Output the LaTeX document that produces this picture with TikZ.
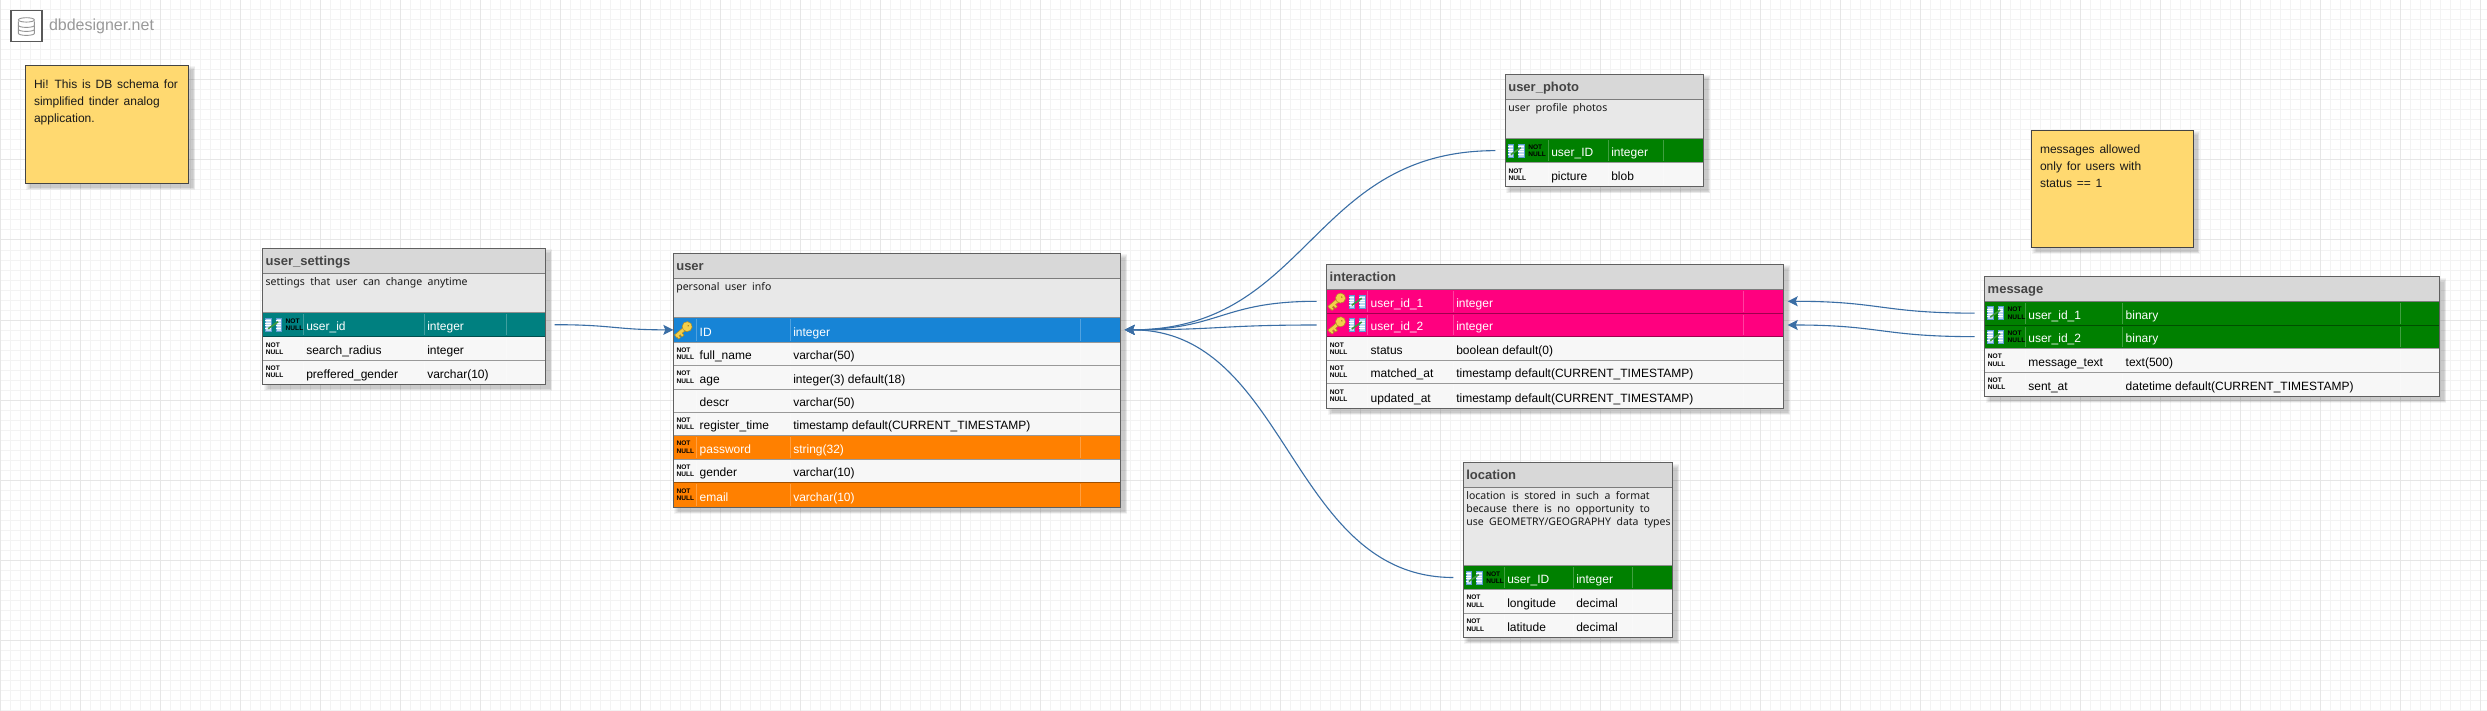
\documentclass[tikz,border=0pt]{standalone}
\usepackage{fontspec}
\usetikzlibrary{arrows.meta}
\setmainfont{Liberation Sans}
\newfontfamily\descfont[WordSpace=2]{Noto Sans}
\newfontfamily\notefont[WordSpace=1.45]{Liberation Sans}
\definecolor{gridminor}{HTML}{F3F3F3}
\definecolor{gridmajor}{HTML}{E6E6E6}
\definecolor{headfill}{HTML}{D8D8D8}
\definecolor{descfill}{HTML}{E8E8E8}
\definecolor{plainfill}{HTML}{F7F7F7}
\definecolor{edgedark}{HTML}{444444}
\definecolor{plainsep}{HTML}{E8E8E8}
\definecolor{tealrow}{HTML}{008080}
\definecolor{bluerow}{HTML}{1784D6}
\definecolor{orangerow}{HTML}{FF8000}
\definecolor{pinkrow}{HTML}{FF007F}
\definecolor{greenrow}{HTML}{008000}
\definecolor{notefill}{HTML}{FFD970}
\definecolor{linkblue}{HTML}{3A6EA5}
\definecolor{keygold}{HTML}{F4CF4A}
\definecolor{keyedge}{HTML}{B08C24}
\definecolor{fkblue}{HTML}{BBD9F2}
\definecolor{fkedge}{HTML}{5C9BD0}
\definecolor{fkgreen}{HTML}{3D9A3D}
\tikzset{
  x=0.5pt,y=-0.5pt,
  cellbox/.style={rectangle,inner sep=0pt,outer sep=0pt,anchor=north west},
  celltext/.style={inner sep=0pt,outer sep=0pt,anchor=base west,font=\fontsize{6}{7}\selectfont},
  titletext/.style={inner sep=0pt,outer sep=0pt,anchor=base west,text=edgedark,font=\bfseries\fontsize{6.5}{7.5}\selectfont},
  desctext/.style={inner sep=0pt,outer sep=0pt,anchor=north west,align=left,text=black!90,font=\descfont\fontsize{5.25}{6.5}\selectfont},
  nntext/.style={inner sep=0pt,outer sep=0pt,anchor=west,align=left,text=black,font=\bfseries\fontsize{3.3}{3.6}\selectfont},
  notebox/.style={rectangle,draw=edgedark,line width=0.5pt,fill=notefill,inner sep=0pt,outer sep=0pt,anchor=north west},
  notetext/.style={inner sep=0pt,outer sep=0pt,anchor=north west,align=left,text=black!90,font=\notefont\fontsize{6}{8.5}\selectfont},
  fklink/.style={draw=linkblue,line width=0.55pt,-{Stealth[length=5pt,width=5pt,inset=1pt]}},
  tableedge/.style={draw=edgedark!85,line width=0.5pt},
}
% soft shadow as stacked translucent rectangles
\newcommand{\softshadow}[4]{%
  \foreach \s in {1,2,3,4,5}{%
    \fill[black,opacity=0.045]
      ({#1+\s},{#2+\s}) rectangle ({#3+7-\s*0.5},{#4+7-\s*0.5});}%
}
% cell box: style, name, x0,y0,x1,y1
\newcommand{\boxnode}[6]{%
  \pgfmathsetmacro{\bw}{(#5-#3)*0.5}%
  \pgfmathsetmacro{\bh}{(#6-#4)*0.5}%
  \node[cellbox,fill=#1,minimum width=\bw pt,minimum height=\bh pt] (#2) at (#3,#4) {};%
}
% table frame columns
\newcommand{\settable}[5]{\def\xa{#1}\def\xb{#2}\def\xc{#3}\def\xd{#4}\def\xe{#5}}
% icons use \xa and \ryc
\newcommand{\icNN}[1]{\node[nntext] (#1-nn) at ({\xa+3.2},\ryc) {NOT\\NULL};}
\newcommand{\fkicon}[1]{%
  \begin{scope}[shift={(#1,\ryc)}]
    \fill[fkblue,draw=fkedge,line width=0.2pt] (-8,-6.5) rectangle (-2.5,6.5);
    \fill[fkblue,draw=fkedge,line width=0.2pt] (2.5,-6.5) rectangle (8,6.5);
    \foreach \yy in {-4,-1.5,1,3.5}{
      \draw[white,line width=0.3pt] (-8,\yy) -- (-2.5,\yy);
      \draw[white,line width=0.3pt] (2.5,\yy) -- (8,\yy);}
    \draw[fkgreen,line width=0.8pt] (-5,4) -- (5,-3);
  \end{scope}}
\newcommand{\keyicon}[1]{%
  \begin{scope}[shift={(#1,\ryc)},rotate=40]
    \fill[keygold,draw=keyedge,line width=0.25pt]
      (-10,-1.8) -- (2,-1.8) -- (2,1.8) -- (-3,1.8) -- (-3,4.5) -- (-5.5,4.5) -- (-5.5,1.8) -- (-7,1.8) -- (-7,4) -- (-9.5,4) -- (-9.5,1.8) -- (-10,1.8) -- cycle;
    \fill[keygold,draw=keyedge,line width=0.25pt] (5,0) circle[radius=2.5pt];
    \fill[keyedge] (6.5,0) circle[radius=0.45pt];
  \end{scope}}
\newcommand{\icFKNN}[1]{\fkicon{\xa+10.5}\node[nntext] (#1-nn) at ({\xa+23},\ryc) {NOT\\NULL};}
\newcommand{\icKeyOnly}[1]{\keyicon{\xa+10}}
\newcommand{\icKeyFK}[1]{\keyicon{\xa+10}\fkicon{\xa+30}}
\newcommand{\icNone}[1]{}
% row: name, y0, y1, fill, text colour, icon macro, column 1, column 2
\newcommand{\dbrow}[8]{%
  \boxnode{#4}{#1}{\xa}{#2}{\xe}{#3}%
  \pgfmathsetmacro{\ryc}{(#2+#3)/2}%
  \pgfmathsetmacro{\rya}{#2+1.5}%
  \pgfmathsetmacro{\ryb}{#3-1.5}%
  \pgfmathsetmacro{\ryt}{#3-6}%
  \ifx#5black\def\sepcol{plainsep}\def\sepop{1}\else\def\sepcol{white}\def\sepop{0.25}\fi
  \foreach \vx in {\xb,\xc,\xd}{\draw[\sepcol,opacity=\sepop,line width=0.4pt] (\vx,\rya) -- (\vx,\ryb);}%
  #6{#1}%
  \pgfmathsetmacro{\tbx}{\xb+3}\pgfmathsetmacro{\tcx}{\xc+3}%
  \node[celltext,text=#5] (#1-n) at (\tbx,\ryt) {#7};%
  \node[celltext,text=#5] (#1-t) at (\tcx,\ryt) {#8};%
  \draw[black,opacity=0.38,line width=0.5pt] (#1.north west) -- (#1.north east);%
}
% header: name, y0, y1, title
\newcommand{\dbhead}[4]{%
  \boxnode{headfill}{#1}{\xa}{#2}{\xe}{#3}%
  \pgfmathsetmacro{\tty}{#3-8.2}\pgfmathsetmacro{\ttx}{\xa+3}%
  \node[titletext] (#1-title) at (\ttx,\tty) {#4};%
}
% description: name, y0, y1, text
\newcommand{\dbdesc}[4]{%
  \boxnode{descfill}{#1}{\xa}{#2}{\xe}{#3}%
  \pgfmathsetmacro{\ddy}{#2+4.5}\pgfmathsetmacro{\ddx}{\xa+3}%
  \node[desctext] (#1-text) at (\ddx,\ddy) {#4};%
}
% frame: header node, last row node
\newcommand{\dbframe}[2]{%
  \draw[edgedark!70,line width=0.5pt] (#1.south west) -- (#1.south east);%
  \draw[tableedge] (#1.north west) rectangle (#2.south east);%
}
\begin{document}
\begin{tikzpicture}
\useasboundingbox (0,0) rectangle (2487,711);
\fill[white] (0,0) rectangle (2487,711);
% grid
\foreach \gx in {0,10,...,2480}{\draw[gridminor,line width=0.5pt] (\gx,0) -- (\gx,711);}
\foreach \gy in {0,10,...,710}{\draw[gridminor,line width=0.5pt] (0,\gy) -- (2487,\gy);}
\foreach \gx in {0,80,...,2480}{\draw[gridmajor,line width=0.5pt] (\gx,0) -- (\gx,711);}
\foreach \gy in {0,80,...,710}{\draw[gridmajor,line width=0.5pt] (0,\gy) -- (2487,\gy);}
% logo
\node[rectangle,draw=black!65,line width=0.6pt,fill=white,inner sep=0pt,minimum width=15.5pt,minimum height=15.5pt,anchor=north west] (logo) at (10.3,10.3) {};
\begin{scope}[shift={(logo.center)}]
  \foreach \dy in {4,0,-4}{
    \draw[black!42,fill=white,line width=0.45pt] (-8,\dy-1) -- (-8,\dy+3) arc[start angle=180,end angle=360,x radius=4pt,y radius=1pt] -- (8,\dy-1);
  }
  \draw[black!42,fill=white,line width=0.45pt] (0,-6.5) ellipse[x radius=4pt,y radius=1.1pt];
\end{scope}
\node[inner sep=0pt,outer sep=0pt,anchor=base west,text=black!40,font=\fontsize{8}{9}\selectfont] (logotext) at (49,31) {dbdesigner.net};
% notes
\softshadow{25.3}{65.3}{188.7}{183.3}
\node[notebox,minimum width=81.7pt,minimum height=59pt] (noteA) at (25.3,65.3) {};
\node[notetext] (noteAtext) at (34,80) {Hi! This is DB schema for\\simplified tinder analog\\application.};
\softshadow{2031.3}{130.3}{2193.3}{247.3}
\node[notebox,minimum width=81pt,minimum height=58.5pt] (noteB) at (2031.3,130.3) {};
\node[notetext] (noteBtext) at (2040,145) {messages allowed\\only for users with\\status == 1};
% user_settings
\softshadow{262.7}{248}{545.7}{384}
\settable{262.7}{303.3}{424.3}{506}{545.7}
\dbhead{sh}{248}{273.3}{user\_settings}
\dbdesc{sd}{273.3}{312.7}{settings that user can change anytime}
\dbrow{sa}{312.7}{336.7}{tealrow}{white}{\icFKNN}{user\_id}{integer}
\dbrow{sb}{336.7}{360}{plainfill}{black}{\icNN}{search\_radius}{integer}
\dbrow{sc}{360}{384}{plainfill}{black}{\icNN}{preffered\_gender}{varchar(10)}
\dbframe{sh}{sc}
% user
\softshadow{673.3}{253.3}{1120.7}{507}
\settable{673.3}{696.7}{790.3}{1080.7}{1120.7}
\dbhead{uh}{253.3}{278.3}{user}
\dbdesc{ud}{278.3}{317.7}{personal user info}
\dbrow{ua}{317.7}{342}{bluerow}{white}{\icKeyOnly}{ID}{integer}
\dbrow{ub}{342}{365.3}{plainfill}{black}{\icNN}{full\_name}{varchar(50)}
\dbrow{uc}{365.3}{389}{plainfill}{black}{\icNN}{age}{integer(3) default(18)}
\dbrow{ue}{389}{412}{plainfill}{black}{\icNone}{descr}{varchar(50)}
\dbrow{uf}{412}{435.6}{plainfill}{black}{\icNN}{register\_time}{timestamp default(CURRENT\_TIMESTAMP)}
\dbrow{ug}{435.6}{459}{orangerow}{white}{\icNN}{password}{string(32)}
\dbrow{ui}{459}{482.3}{plainfill}{black}{\icNN}{gender}{varchar(10)}
\dbrow{uj}{482.3}{507}{orangerow}{white}{\icNN}{email}{varchar(10)}
\dbframe{uh}{uj}
% interaction
\softshadow{1326.7}{264.3}{1783.7}{408}
\settable{1326.7}{1367.7}{1453.3}{1743.7}{1783.7}
\dbhead{ih}{264.3}{289.3}{interaction}
\dbrow{ia}{289.3}{313.3}{pinkrow}{white}{\icKeyFK}{user\_id\_1}{integer}
\dbrow{ib}{313.3}{336.7}{pinkrow}{white}{\icKeyFK}{user\_id\_2}{integer}
\dbrow{ic}{336.7}{360}{plainfill}{black}{\icNN}{status}{boolean default(0)}
\dbrow{id}{360}{383.3}{plainfill}{black}{\icNN}{matched\_at}{timestamp default(CURRENT\_TIMESTAMP)}
\dbrow{ie}{383.3}{408}{plainfill}{black}{\icNN}{updated\_at}{timestamp default(CURRENT\_TIMESTAMP)}
\dbframe{ih}{ie}
% user_photo
\softshadow{1505.3}{74.3}{1703.7}{187}
\settable{1505.3}{1548.3}{1608.3}{1663.3}{1703.7}
\dbhead{ph}{74.3}{99.3}{user\_photo}
\dbdesc{pd}{99.3}{139}{user profile photos}
\dbrow{pa}{139}{162.3}{greenrow}{white}{\icFKNN}{user\_ID}{integer}
\dbrow{pb}{162.3}{187}{plainfill}{black}{\icNN}{picture}{blob}
\dbframe{ph}{pb}
% location
\softshadow{1463.3}{462.7}{1672.7}{637.3}
\settable{1463.3}{1504.3}{1573.3}{1632.3}{1672.7}
\dbhead{lh}{462.7}{487.3}{location}
\dbdesc{ld}{487.3}{565.7}{location is stored in such a format\\because there is no opportunity to\\use GEOMETRY/GEOGRAPHY data types}
\dbrow{la}{565.7}{589.3}{greenrow}{white}{\icFKNN}{user\_ID}{integer}
\dbrow{lb}{589.3}{613.3}{plainfill}{black}{\icNN}{longitude}{decimal}
\dbrow{lc}{613.3}{637.3}{plainfill}{black}{\icNN}{latitude}{decimal}
\dbframe{lh}{lc}
% message
\softshadow{1984.7}{276.7}{2439.7}{396}
\settable{1984.7}{2025.3}{2122.7}{2400.3}{2439.7}
\dbhead{mh}{276.7}{301.3}{message}
\dbrow{ma}{301.3}{325}{greenrow}{white}{\icFKNN}{user\_id\_1}{binary}
\dbrow{mb}{325}{348.3}{greenrow}{white}{\icFKNN}{user\_id\_2}{binary}
\dbrow{mc}{348.3}{372}{plainfill}{black}{\icNN}{message\_text}{text(500)}
\dbrow{md}{372}{396}{plainfill}{black}{\icNN}{sent\_at}{datetime default(CURRENT\_TIMESTAMP)}
\dbframe{mh}{md}
% connectors
\draw[fklink] ([xshift=4.5pt]sa.east) .. controls +(58,0) and +(-58,0) .. (ua.west);
\draw[fklink] ([xshift=-5pt]pa.west) .. controls +(-185,0) and +(185,0) .. ([xshift=2pt]ua.east);
\draw[fklink] ([xshift=-5pt]ia.west) .. controls +(-96,0) and +(96,0) .. ([xshift=2pt]ua.east);
\draw[fklink] ([xshift=-5pt]ib.west) .. controls +(-96,0) and +(96,0) .. ([xshift=2pt]ua.east);
\draw[fklink] ([xshift=-5pt]la.west) .. controls +(-164,0) and +(164,0) .. ([xshift=2pt]ua.east);
\draw[fklink] ([xshift=-5pt]ma.west) .. controls +(-93,0) and +(93,0) .. ([xshift=2pt]ia.east);
\draw[fklink] ([xshift=-5pt]mb.west) .. controls +(-93,0) and +(93,0) .. ([xshift=2pt]ib.east);
\end{tikzpicture}
\end{document}
